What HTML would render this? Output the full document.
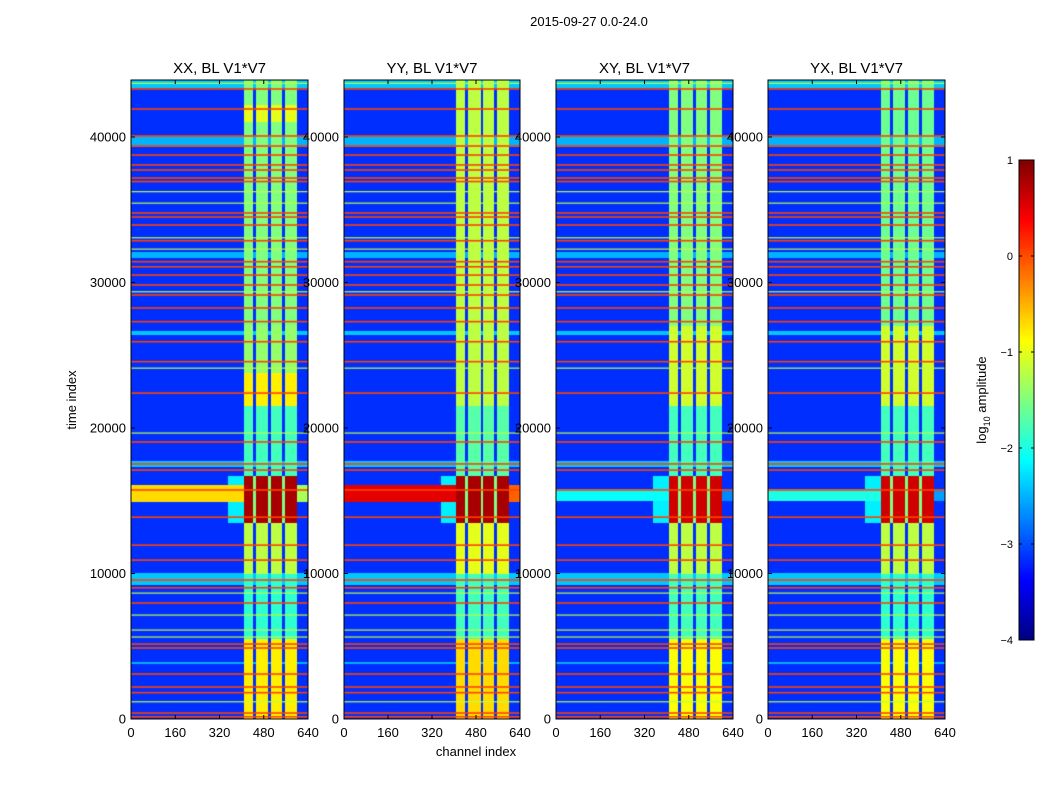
<!DOCTYPE html>
<html><head><meta charset="utf-8"><style>
body{margin:0;background:#fff;}
#wrap{position:relative;width:1050px;height:800px;overflow:hidden;font-family:"Liberation Sans",sans-serif;}
canvas{position:absolute;}
svg{position:absolute;left:0;top:0;}
</style></head><body>
<div id="wrap">
<canvas id="c0" width="177" height="639" style="left:131px;top:80px"></canvas>
<canvas id="c1" width="176" height="639" style="left:344px;top:80px"></canvas>
<canvas id="c2" width="177" height="639" style="left:556px;top:80px"></canvas>
<canvas id="c3" width="177" height="639" style="left:768px;top:80px"></canvas>
<canvas id="cb" width="15" height="480" style="left:1019px;top:160px"></canvas>
<svg id="ov" width="1050" height="800"></svg>
</div>
<script>
const panelTitles=["XX, BL V1*V7","YY, BL V1*V7","XY, BL V1*V7","YX, BL V1*V7"];
const panelLefts=[131,344,556,768];
const xTicks=[0,160,320,480,640];
const yTicks=[0,10000,20000,30000,40000];
const cbTicks=[1,0,-1,-2,-3,-4];
const hotLines=[43300,41925,40070,39380,38760,38080,37730,37180,36940,34780,34500,33950,32870,31430,31080,30510,29830,29140,28250,27310,25930,24560,22400,19040,17530,17110,15740,13870,11950,10920,9550,9020,7970,5150,4880,3090,2200,1810,410,150];
const greenLines=[36250,35460,33080,32300,29370,24120,19660,8660,7150,6120,5640,1190,43700];
const brightBands=[[39300,40100,-2.5],[31700,32100,-2.5],[26400,26700,-2.4],[17300,17700,-2.4],[9200,10030,-2.4],[3800,3950,-2.5],[43400,43900,-2.4]];
const colStripes=[[405,440],[450,495],[505,545],[555,598]];
const colLevels=[
 [[0,5500,-0.8],[5500,10000,-1.9],[10000,13500,-1.2],[13500,16700,0.8],[16700,21500,-1.8],[21500,23800,-0.8],[23800,27000,-1.4],[27000,41000,-1.5],[41000,42200,-1.0],[42200,43900,-1.5]],
 [[0,5500,-0.7],[5500,10000,-1.8],[10000,13500,-1.0],[13500,16700,0.8],[16700,21500,-1.7],[21500,27000,-1.2],[27000,43900,-1.2]],
 [[0,5500,-0.9],[5500,10000,-1.8],[10000,13500,-1.2],[13500,16700,0.6],[16700,21500,-1.8],[21500,27000,-1.1],[27000,43900,-1.5]],
 [[0,5500,-0.9],[5500,10000,-1.9],[10000,13500,-1.2],[13500,16700,0.6],[16700,21500,-1.8],[21500,27000,-1.1],[27000,43900,-1.6]]
];
const hotBand=[[14900,16100,-0.7],[14900,16100,0.5],[15000,15800,-2.1],[15000,15800,-2.0]];
const bgLevel=-3.15;

function jet(v){const x=Math.max(0,Math.min(1,(v+4)/5));const c=a=>Math.round(255*Math.max(0,Math.min(1,1.5-Math.abs(4*x-a))));return [c(3),c(2),c(1)];}
const yT=t=>719-t*0.01455;
const tY=y=>(719-y)/0.01455;
const W=[177,176,177,177];
for(let p=0;p<4;p++){
 const cv=document.getElementById('c'+p),ctx=cv.getContext('2d');
 const w=W[p],img=ctx.createImageData(w,639);
 for(let py=0;py<639;py++){
  const t=tY(80+py+0.5);
  let base=bgLevel;
  for(const b of brightBands) if(t>=b[0]&&t<b[1]) base=Math.max(base,b[2]);
  const hb=hotBand[p];
  let rowHot=(t>=hb[0]&&t<hb[1])?hb[2]:-9;
  let cl=-9;
  for(const c of colLevels[p]) if(t>=c[0]&&t<c[1]) cl=c[2];
  for(let px=0;px<w;px++){
   const ch=px/w*640;
   let v=base;
   if(ch<405) v=Math.max(v,rowHot);
   if(cl>0&&ch>=350&&ch<405) v=Math.max(v,-2.2);
   let inStripe=false;
   for(const s of colStripes) if(ch>=s[0]&&ch<s[1]) inStripe=true;
   if(inStripe) v=Math.max(v,cl);
   else if(ch>=405&&ch<598&&cl>0) v=Math.max(v,-1.5);
   if(ch>=598&&rowHot>-9) v=Math.max(v,rowHot-0.6);
   const col=jet(v),i=(py*w+px)*4;
   img.data[i]=col[0];img.data[i+1]=col[1];img.data[i+2]=col[2];img.data[i+3]=255;
  }
 }
 ctx.putImageData(img,0,0);
 const oc=jet(0.05);ctx.fillStyle=`rgb(${oc})`;
 for(const t of hotLines) ctx.fillRect(0,yT(t)-80-0.8,w,1.6);
 const gc=jet(-1.2);ctx.fillStyle=`rgb(${gc})`;
 for(const t of greenLines) ctx.fillRect(0,yT(t)-80-0.5,w,1.2);
}
{const ctx=document.getElementById('cb').getContext('2d');
 for(let y=0;y<480;y++){const v=1-y/96;ctx.fillStyle=`rgb(${jet(v)})`;ctx.fillRect(0,y,15,1);}}

const NS="http://www.w3.org/2000/svg",ov=document.getElementById('ov');
function mk(tag,attrs,txt){const e=document.createElementNS(NS,tag);for(const k in attrs)e.setAttribute(k,attrs[k]);if(txt!==undefined)e.textContent=txt;ov.appendChild(e);return e;}
for(let p=0;p<4;p++){
 const L=panelLefts[p],w=W[p],R=L+w;
 const fr=mk('rect',{x:L,y:80,width:w,height:639,fill:'none',stroke:'#000','stroke-width':1});
 
 const tt=mk('text',{x:L+w/2,y:73,'text-anchor':'middle','font-size':15},panelTitles[p]);
 
 for(const xv of xTicks){const x=L+xv/640*w;
  mk('line',{x1:x,x2:x,y1:719,y2:715,stroke:'#000'});mk('line',{x1:x,x2:x,y1:80,y2:84,stroke:'#000'});
  const t=mk('text',{x:x,y:737,'text-anchor':'middle','font-size':13},xv);
  }
 for(const yv of yTicks){const y=yT(yv);
  mk('line',{x1:L,x2:L+4,y1:y,y2:y,stroke:'#000'});mk('line',{x1:R,x2:R-4,y1:y,y2:y,stroke:'#000'});
  const t=mk('text',{x:L-5,y:y+4.5,'text-anchor':'end','font-size':13},yv);
  }
}
let e;
e=mk('text',{x:589,y:26,'text-anchor':'middle','font-size':13},'2015-09-27 0.0-24.0');
e=mk('text',{x:476,y:756,'text-anchor':'middle','font-size':13},'channel index');
e=mk('text',{x:76,y:400,'text-anchor':'middle','font-size':13,transform:'rotate(-90 76 400)'},'time index');
e=mk('rect',{x:1019,y:160,width:15,height:480,fill:'none',stroke:'#000'});
for(const v of cbTicks){const y=160+(1-v)*96;
 mk('line',{x1:1019,x2:1022,y1:y,y2:y,stroke:'#000'});mk('line',{x1:1034,x2:1031,y1:y,y2:y,stroke:'#000'});
 e=mk('text',{x:1013,y:y+4,'text-anchor':'end','font-size':11},v<0?'\u2212'+(-v):v);}
e=mk('text',{x:986,y:400,'text-anchor':'middle','font-size':13,transform:'rotate(-90 986 400)'});
e.innerHTML='log<tspan font-size="9" dy="4">10</tspan><tspan dy="-4"> amplitude</tspan>';

</script>
</body></html>
